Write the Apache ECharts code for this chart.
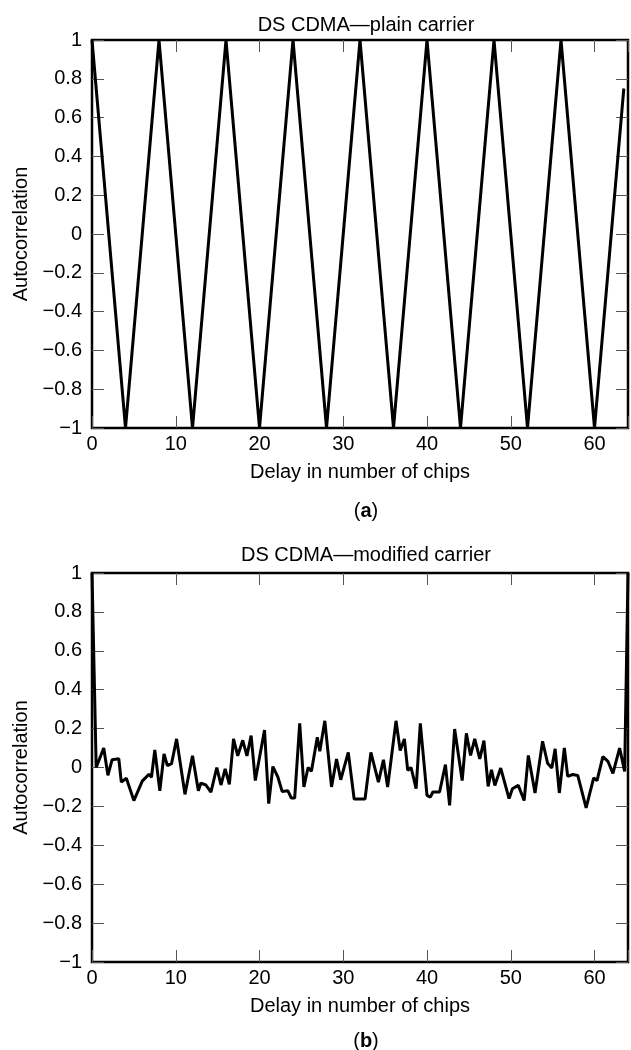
<!DOCTYPE html>
<html>
<head>
<meta charset="utf-8">
<script src="https://cdn.jsdelivr.net/npm/echarts@6/dist/echarts.min.js"></script>
<style>
  html, body { margin: 0; padding: 0; background: #fff; }
  #chart { width: 631px; height: 1050px; }
</style>
</head>
<body>
<div id="chart"></div>
<script>
// (a) plain carrier: vertices of the triangle-shaped autocorrelation
var delayA = [0, 4, 8, 12, 16, 20, 24, 28, 32, 36, 40, 44, 48, 52, 56, 60, 63.5];
var corrA = [1, -1, 1, -1, 1, -1, 1, -1, 1, -1, 1, -1, 1, -1, 1, -1, 0.75];

// (b) modified carrier
var delayB = [0, 0.5, 1.4, 1.9, 2.4, 3.2, 3.5, 4.1, 5.0, 6.0, 6.8, 7.1, 7.5, 8.1, 8.6, 9.0, 9.5, 10.1,
  11.1, 12.0, 12.7, 13.0, 13.6, 14.2, 14.9, 15.4, 15.9, 16.4, 16.9, 17.4, 18.0, 18.5, 19.0, 19.5,
  20.6, 21.1, 21.6, 22.2, 22.7, 23.4, 23.8, 24.2, 24.8, 25.3, 25.8, 26.2, 26.9, 27.2, 27.8, 28.6,
  29.2, 29.7, 30.6, 31.3, 32.6, 33.3, 34.2, 34.8, 35.3, 36.3, 36.8, 37.3, 37.7, 38.1, 38.7, 39.2,
  40.0, 40.4, 40.7, 41.5, 42.2, 42.7, 43.3, 44.2, 44.7, 45.2, 45.7, 46.3, 46.8, 47.3, 47.7, 48.1,
  48.8, 49.8, 50.2, 50.9, 51.6, 52.1, 52.9, 53.8, 54.4, 54.9, 55.3, 55.8, 56.4, 56.8, 57.4, 58.0,
  59.0, 59.9, 60.3, 61.0, 61.6, 62.2, 63.0, 63.6, 64];
var corrB = [1, 0, 0.10, -0.04, 0.04, 0.045, -0.075, -0.055, -0.17, -0.07, -0.035, -0.05, 0.09, -0.12, 0.07, 0.01, 0.02, 0.147,
  -0.138, 0.06, -0.12, -0.08, -0.09, -0.127, 0.0, -0.09, -0.007, -0.087, 0.147, 0.06, 0.14, 0.06, 0.164, -0.067,
  0.193, -0.186, 0.005, -0.05, -0.123, -0.12, -0.157, -0.157, 0.227, -0.10, 0.0, -0.019, 0.155, 0.083, 0.24, -0.10,
  0.044, -0.063, 0.078, -0.162, -0.162, 0.078, -0.075, 0.04, -0.10, 0.24, 0.087, 0.147, -0.015, 0.0, -0.109, 0.227,
  -0.143, -0.152, -0.126, -0.126, 0.015, -0.195, 0.198, -0.067, 0.176, 0.062, 0.147, 0.044, 0.138, -0.097, -0.012, -0.092,
  -0.003, -0.16, -0.109, -0.092, -0.17, 0.062, -0.131, 0.135, 0.022, -0.003, 0.096, -0.131, 0.101, -0.046, -0.036, -0.041,
  -0.207, -0.053, -0.067, 0.056, 0.032, -0.03, 0.10, -0.02, 1];

var titles = ['DS CDMA\u2014plain carrier', 'DS CDMA\u2014modified carrier'];
var panelTags = ['a', 'b'];

var font = 'Liberation Sans';
var myChart = echarts.init(document.getElementById('chart'));

function pairs(xs, ys) {
  return xs.map(function (x, i) { return [x, ys[i]]; });
}

var tick = { show: true, inside: true, length: 12, lineStyle: { color: '#555', width: 1 } };
var noLine = { show: false, onZero: false };

function xAxes(gi) {
  return [
    {
      type: 'value', gridIndex: gi, position: 'bottom', min: 0, max: 64, interval: 10,
      name: 'Delay in number of chips', nameLocation: 'middle', nameGap: 34,
      nameTextStyle: { fontFamily: font, fontSize: 20, color: '#000' },
      axisLine: noLine, axisTick: tick, splitLine: { show: false },
      axisLabel: {
        fontFamily: font, fontSize: 20, color: '#000', margin: 6,
        formatter: function (v) { return v % 10 === 0 ? String(v) : ''; }
      }
    },
    {
      type: 'value', gridIndex: gi, position: 'top', min: 0, max: 64, interval: 10,
      axisLine: noLine, axisTick: tick, splitLine: { show: false },
      axisLabel: { show: false }
    }
  ];
}

function yAxes(gi) {
  return [
    {
      type: 'value', gridIndex: gi, position: 'left', min: -1, max: 1, interval: 0.2,
      name: 'Autocorrelation', nameLocation: 'middle', nameGap: 60,
      nameTextStyle: { fontFamily: font, fontSize: 20, color: '#000' },
      axisLine: noLine, axisTick: tick, splitLine: { show: false },
      axisLabel: {
        fontFamily: font, fontSize: 20, color: '#000', margin: 10,
        formatter: function (v) { return String(Math.round(v * 10) / 10).replace('-', '\u2212'); }
      }
    },
    {
      type: 'value', gridIndex: gi, position: 'right', min: -1, max: 1, interval: 0.2,
      axisLine: noLine, axisTick: tick, splitLine: { show: false },
      axisLabel: { show: false }
    }
  ];
}

var option = {
  animation: false,
  backgroundColor: '#fff',
  title: [
    { text: titles[0], left: 361, textAlign: 'center', top: 10,
      textStyle: { fontFamily: font, fontSize: 20, fontWeight: 'normal', color: '#000' } },
    { text: '(' + '{b|' + panelTags[0] + '})', left: 361, textAlign: 'center', top: 496,
      textStyle: { fontFamily: font, fontSize: 20, fontWeight: 'normal', color: '#000',
        rich: { b: { fontFamily: font, fontSize: 20, fontWeight: 'bold', color: '#000' } } } },
    { text: titles[1], left: 361, textAlign: 'center', top: 540,
      textStyle: { fontFamily: font, fontSize: 20, fontWeight: 'normal', color: '#000' } },
    { text: '(' + '{b|' + panelTags[1] + '})', left: 361, textAlign: 'center', top: 1026,
      textStyle: { fontFamily: font, fontSize: 20, fontWeight: 'normal', color: '#000',
        rich: { b: { fontFamily: font, fontSize: 20, fontWeight: 'bold', color: '#000' } } } }
  ],
  grid: [
    { left: 92, top: 40, width: 537, height: 388, show: true, borderColor: '#000', borderWidth: 2.5, backgroundColor: 'transparent' },
    { left: 92, top: 573, width: 537, height: 389, show: true, borderColor: '#000', borderWidth: 2.5, backgroundColor: 'transparent' }
  ],
  xAxis: xAxes(0).concat(xAxes(1)),
  yAxis: yAxes(0).concat(yAxes(1)),
  series: [
    {
      name: 'plain', type: 'line', xAxisIndex: 0, yAxisIndex: 0,
      data: pairs(delayA, corrA), symbol: 'none', clip: false,
      lineStyle: { color: '#000', width: 3 }
    },
    {
      name: 'modified', type: 'line', xAxisIndex: 2, yAxisIndex: 2,
      data: pairs(delayB, corrB), symbol: 'none', clip: false,
      lineStyle: { color: '#000', width: 3 }
    }
  ]
};
option && myChart.setOption(option);
</script>
</body>
</html>
